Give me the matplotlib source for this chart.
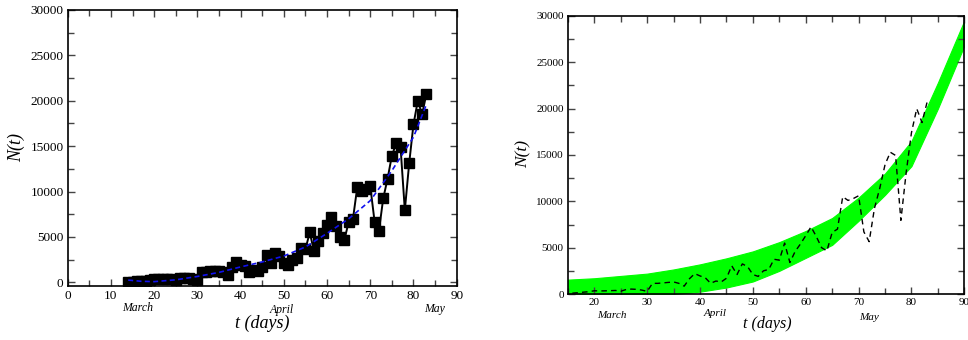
import matplotlib
matplotlib.use("Agg")
import matplotlib.pyplot as plt
from matplotlib.ticker import MultipleLocator
import numpy as np

# observed daily counts (days since 1 Feb)
days = list(range(14, 84))
counts = [50, 80, 100, 140, 200, 250, 350, 330, 340, 360,
          380, 300, 480, 530, 500, 420, 280, 1150, 1150, 1200,
          1250, 1300, 1150, 850, 1650, 2200, 1950, 1750, 1150, 1400,
          1300, 1700, 3050, 2100, 3250, 2950, 2100, 1900, 2500, 2650,
          3750, 3650, 5500, 3400, 4600, 5400, 6300, 7250, 6200, 5000,
          4650, 6650, 7000, 10500, 10100, 10300, 10600, 6700, 5650, 9250,
          11400, 13950, 15300, 14950, 7950, 13100, 17400, 20000, 18500, 20800]

# fitted curve (blue dashed)
fit_days = [14, 17, 20, 25, 30, 35, 40, 45, 50, 55, 60, 65, 70, 75, 80, 83]
fit_vals = [250, 120, 80, 280, 650, 1100, 1700, 2250, 2900, 3900, 5400, 7000, 9000, 12300, 16000, 19600]

# simulated band (green), read as lower / upper envelope
sim_days = [15, 20, 25, 30, 35, 40, 45, 50, 55, 60, 65, 70, 75, 80, 85, 90]
sim_upper = [1550, 1700, 1950, 2200, 2650, 3200, 3850, 4600, 5600, 6800, 8200, 10400, 13000, 16500, 22800, 29500]
sim_lower = [0, 0, 0, 0, 0, 250, 700, 1350, 2500, 3900, 5300, 7900, 10700, 13800, 20000, 26800]

plt.rcParams['font.family'] = ['Liberation Serif', 'DejaVu Serif']

W, H = 968, 340
fig = plt.figure(figsize=(W / 100, H / 100), dpi=100)


def style_axes(ax, fs):
    for s in ax.spines.values():
        s.set_linewidth(1.2)
    ax.xaxis.set_major_locator(MultipleLocator(10))
    ax.xaxis.set_minor_locator(MultipleLocator(5))
    ax.yaxis.set_major_locator(MultipleLocator(5000))
    ax.yaxis.set_minor_locator(MultipleLocator(2500))
    ax.tick_params(which='both', direction='in', top=True, right=True,
                   color='#444444', labelsize=fs, width=1.0)
    ax.tick_params(which='major', length=5, pad=3)
    ax.tick_params(which='minor', length=4)


# left panel
ax1 = fig.add_axes([67.7 / W, 1 - 286 / H, 389 / W, 276 / H])
ax1.plot(days, counts, color='black', linewidth=1.4, marker='s',
         markersize=6.8, markeredgecolor='black', zorder=2)
ax1.plot(fit_days, fit_vals, color='#1010ee', linewidth=1.2,
         linestyle=(0, (3, 2)), zorder=3)
ax1.set_xlim(0, 90)
ax1.set_ylim(-400, 30000)
style_axes(ax1, 9.5)
ax1.set_ylabel('N(t)', fontsize=13, style='italic')
ax1.yaxis.set_label_coords((25 - 67.7) / 389, 0.5)

# right panel
ax2 = fig.add_axes([567.9 / W, 1 - 294 / H, 396.4 / W, 278 / H])
ax2.fill_between(sim_days, sim_lower, sim_upper, color='#00ff00',
                 linewidth=0.8, edgecolor='#00ff00', zorder=1)
ax2.plot(days, counts, color='black', linewidth=1.0,
         linestyle=(0, (4, 3)), zorder=2)
ax2.set_xlim(15, 90)
ax2.set_ylim(0, 30000)
style_axes(ax2, 8)
ax2.set_ylabel('N(t)', fontsize=12.5, style='italic')
ax2.yaxis.set_label_coords((532 - 567.9) / 396.4, (294 - 154) / 278)


def ftext(x, y, s, fs):
    fig.text(x / W, 1 - y / H, s, fontsize=fs, style='italic',
             ha='center', va='center')


ftext(138, 308, 'March', 8.5)
ftext(282, 310, 'April', 8.5)
ftext(435, 309, 'May', 8.5)
ftext(262, 323, 't (days)', 13)

ftext(612, 315, 'March', 8)
ftext(715, 314, 'April', 8)
ftext(869, 318, 'May', 8)
ftext(767, 324, 't (days)', 11.5)

fig.savefig('out.png', dpi=100)
